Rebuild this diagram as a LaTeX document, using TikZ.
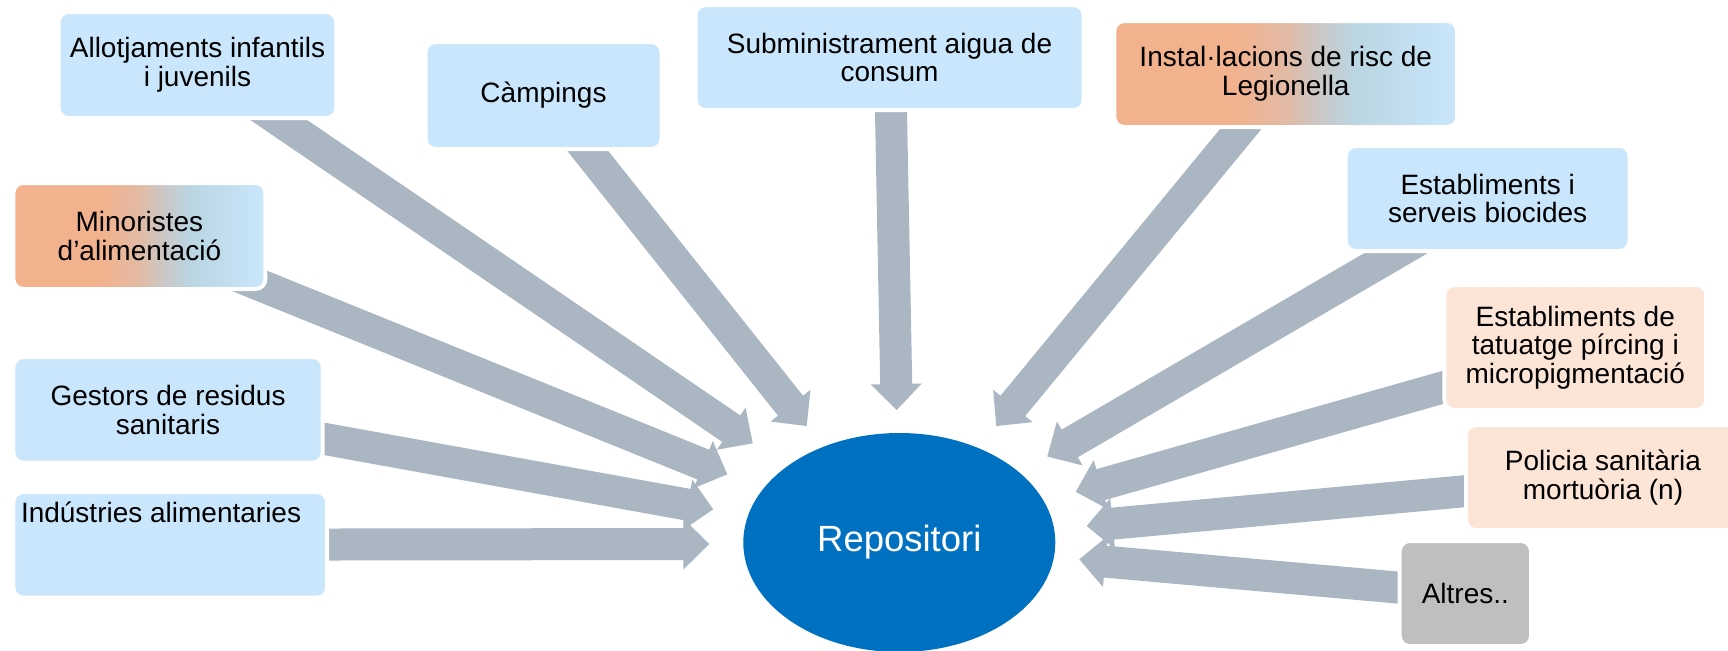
\documentclass[tikz,border=0pt]{standalone}
\usepackage{fontspec}
\setmainfont{Liberation Sans}
\usetikzlibrary{calc,shapes.geometric}
\definecolor{lblue}{RGB}{201,230,252}
\definecolor{salm}{RGB}{243,178,142}
\definecolor{gmidA}{RGB}{226,186,164}
\definecolor{gmidB}{RGB}{202,200,200}
\definecolor{gmidC}{RGB}{186,214,226}
\definecolor{peach}{RGB}{252,228,214}
\definecolor{altgray}{RGB}{191,191,191}
\definecolor{arrgray}{RGB}{171,182,195}
\definecolor{repblue}{RGB}{0,112,192}
\pgfdeclarehorizontalshading{orgblue}{100bp}{color(0bp)=(salm); color(42.5bp)=(salm); color(50bp)=(gmidA); color(55bp)=(gmidB); color(60bp)=(gmidC); color(75bp)=(lblue); color(100bp)=(lblue)}
\pgfdeclarelayer{bg}
\pgfsetlayers{bg,main}
\newcommand\blockarrow[2]{%
  \path ($(#1)!-20pt!(#2)$) coordinate (bS) ($(#2)!13pt!(#1)$) coordinate (bH);
  \fill[arrgray] ($(bS)!8pt!90:(#2)$) -- ($(bH)!8pt!90:(#2)$) -- ($(bH)!12.75pt!90:(#2)$) -- (#2) -- ($(bH)!12.75pt!-90:(#2)$) -- ($(bH)!8pt!-90:(#2)$) -- ($(bS)!8pt!-90:(#2)$) -- cycle;
}
\tikzset{
  boxbase/.style={rectangle, rounded corners=5pt, draw=white, line width=2pt, inner sep=0pt, outer sep=0pt, align=center, text=black, font=\fontsize{14pt}{14.25pt}\selectfont},
  bluebox/.style={boxbase, fill=lblue},
  gradbox/.style={boxbase, shading=orgblue},
  peachbox/.style={boxbase, fill=peach},
  graybox/.style={boxbase, fill=altgray},
  plaintext/.style={inner sep=0pt, outer sep=0pt, text=black, font=\fontsize{14pt}{14.25pt}\selectfont},
}
\begin{document}
\begin{tikzpicture}[x=0.5pt,y=-0.5pt]
\useasboundingbox (0,0) rectangle (1728,650);

% boxes
\node[bluebox, minimum width=138.9pt, minimum height=53pt] (allo) at (197.5,65) {Allotjaments infantils\\ i juvenils};
\node[bluebox, minimum width=118pt, minimum height=53.5pt] (camp) at (543.5,95.5) {Càmpings};
\node[bluebox, minimum width=194.05pt, minimum height=52.5pt] (subm) at (889.55,57.5) {Subministrament aigua de\\consum};
\node[gradbox, minimum width=171.45pt, minimum height=53pt] (inst) at (1285.75,74) {Instal·lacions de risc de\\Legionella};
\node[bluebox, minimum width=141.95pt, minimum height=52.5pt] (bioc) at (1487.65,198.5) {Establiments i\\serveis biocides};
\node[peachbox, minimum width=130.9pt, minimum height=62.5pt] (tatu) at (1575.3,347.5) {Establiments de\\tatuatge pírcing i\\micropigmentació};
\node[peachbox, minimum width=137pt, minimum height=52.5pt] (poli) at (1603,477.5) {Policia sanitària\\mortuòria (n)};
\node[graybox, minimum width=65.65pt, minimum height=52.5pt] (altr) at (1465.35,593.5) {Altres..};
\node[gradbox, minimum width=126pt, minimum height=53pt] (mino) at (139.4,236) {Minoristes\\d’alimentació};
\node[bluebox, minimum width=154.65pt, minimum height=52.85pt] (gest) at (168.05,409.85) {Gestors de residus\\sanitaris};
\node[bluebox, minimum width=156.8pt, minimum height=52.85pt] (indu) at (170.2,544.85) {};
\node[plaintext, anchor=base west] (indut) at (21,522) {Indústries alimentaries};

% central ellipse
\node[ellipse, fill=repblue, minimum width=156pt, minimum height=109.5pt, inner sep=0pt, text=white, font=\fontsize{18.25pt}{20pt}\selectfont] (repo) at (899.3,542.5) {Repositori};

% arrow end points
\coordinate (a1b) at (277.7,119.3);   \coordinate (a1t) at (752.7,443.3);
\coordinate (a2b) at (587,150);       \coordinate (a2t) at (806.7,426);
\coordinate (a3b) at (891,112);       \coordinate (a3t) at (896.7,410);
\coordinate (a4b) at (1241.3,128.3);  \coordinate (a4t) at (996.3,426);
\coordinate (a5b) at (1395,253.7);    \coordinate (a5t) at (1047.3,456.5);
\coordinate (a6b) at (1442.5,387.5);  \coordinate (a6t) at (1075.7,491.7);
\coordinate (a7b) at (1463.4,491.3);  \coordinate (a7t) at (1086.7,526);
\coordinate (a8b) at (1397.3,587.5);  \coordinate (a8t) at (1079.3,559.3);
\coordinate (a9b) at (261,285.5);     \coordinate (a9t) at (727.3,474.3);
\coordinate (a10b) at (324,438.8);    \coordinate (a10t) at (713.3,509.3);
\coordinate (a11b) at (329,544.5);    \coordinate (a11t) at (709.3,544);

\begin{pgfonlayer}{bg}
\fill[white] (0,0) rectangle (1728,650);
\blockarrow{a1b}{a1t}
\blockarrow{a2b}{a2t}
\blockarrow{a3b}{a3t}
\blockarrow{a4b}{a4t}
\blockarrow{a5b}{a5t}
\blockarrow{a6b}{a6t}
\blockarrow{a7b}{a7t}
\blockarrow{a8b}{a8t}
\blockarrow{a9b}{a9t}
\blockarrow{a10b}{a10t}
\blockarrow{a11b}{a11t}
\end{pgfonlayer}
\end{tikzpicture}
\end{document}
